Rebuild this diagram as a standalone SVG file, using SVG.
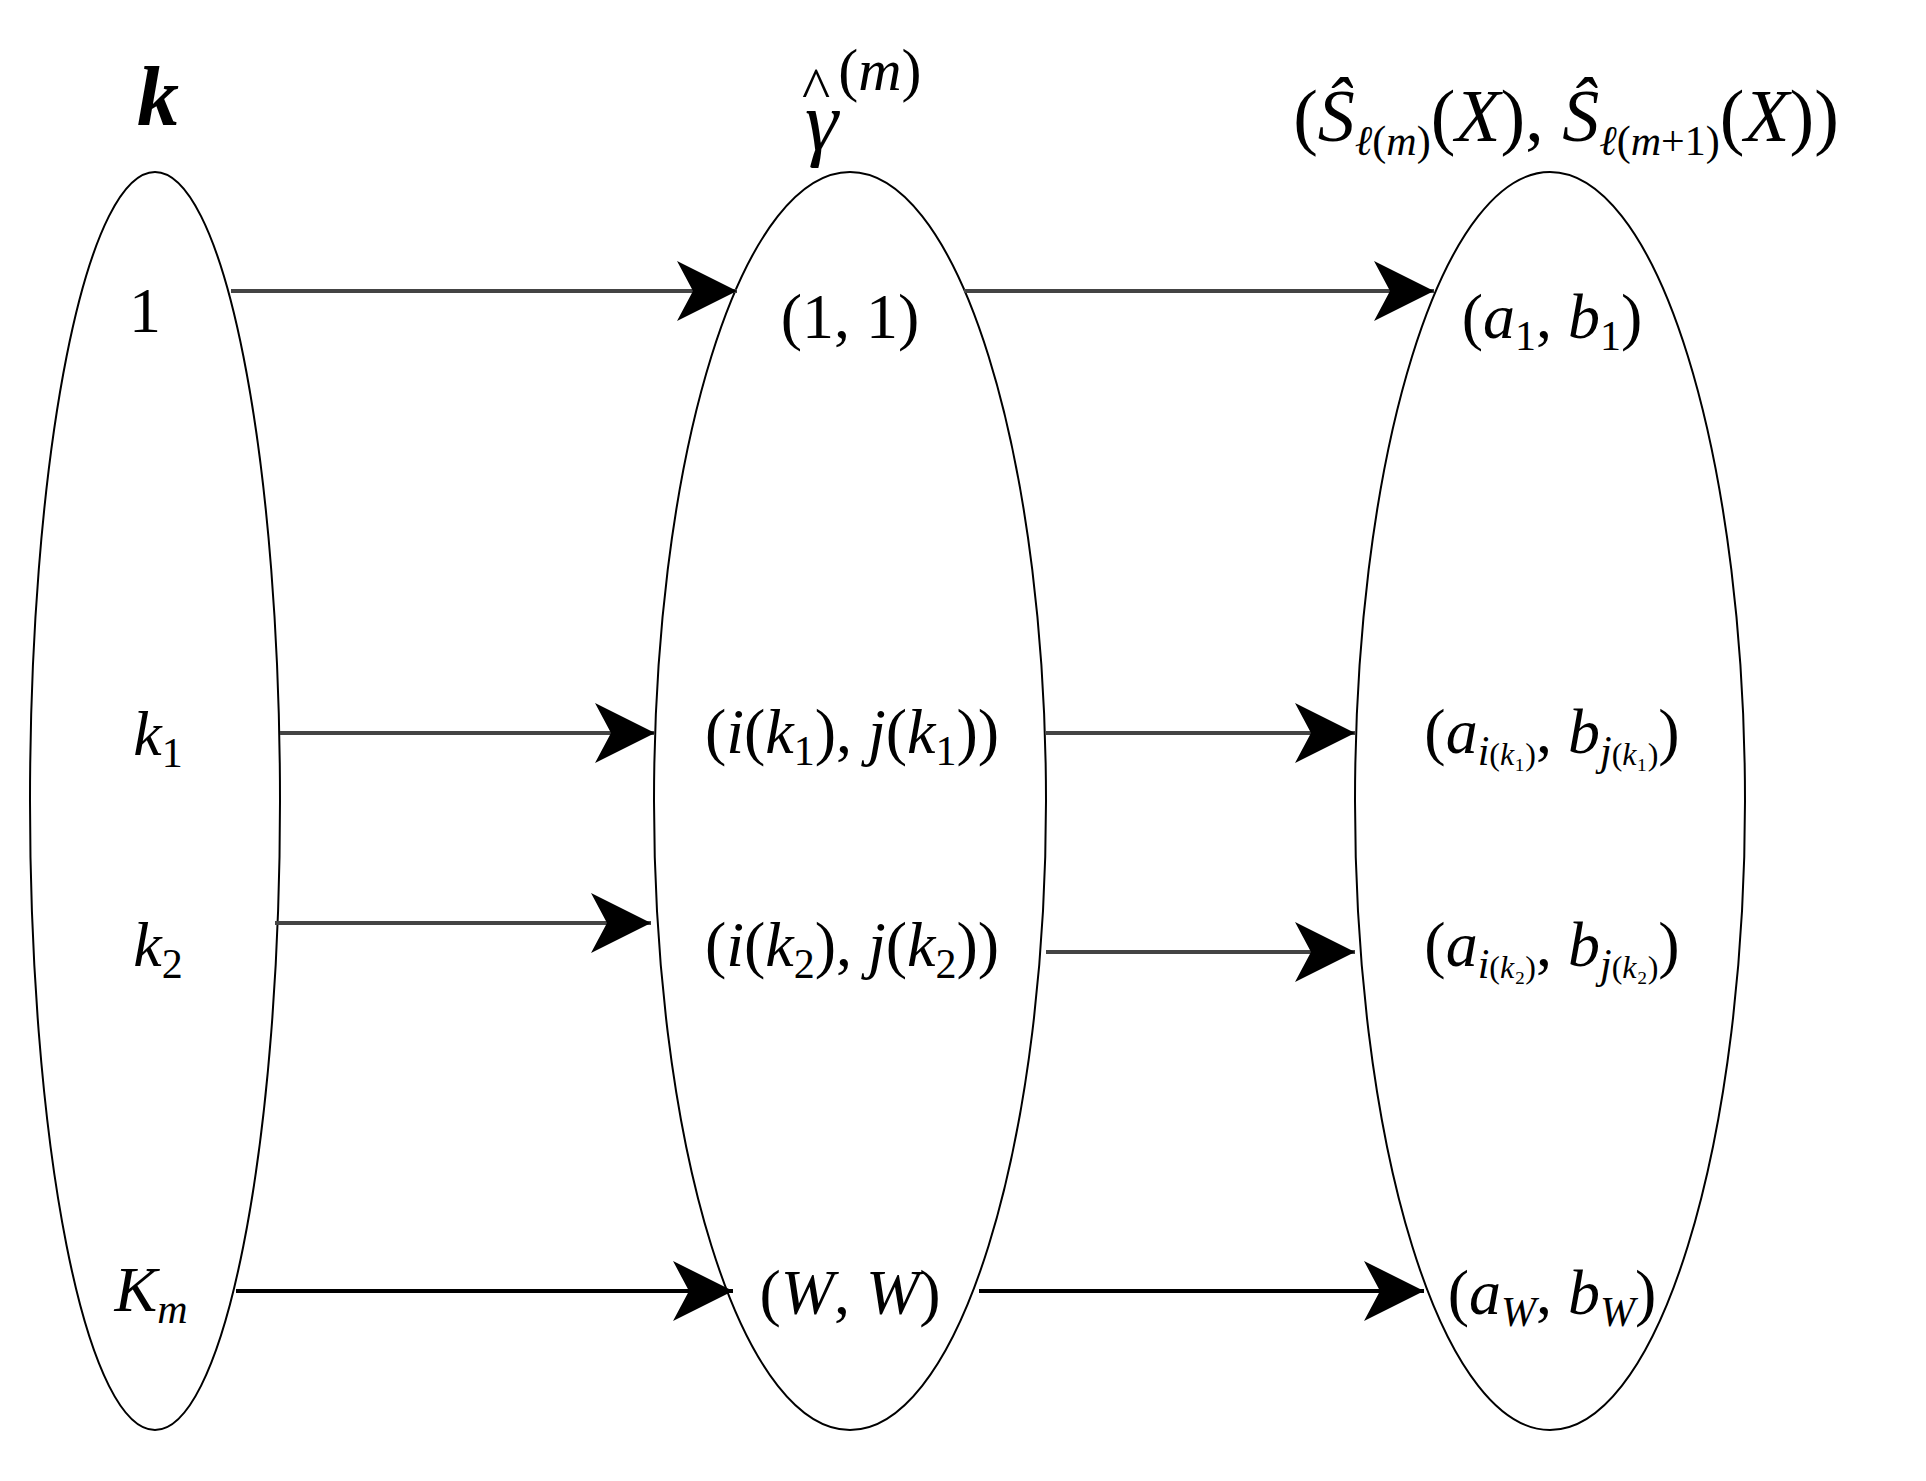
<svg xmlns="http://www.w3.org/2000/svg" width="1926" height="1481" viewBox="0 0 1926 1481">
<style>
.e{fill:none;stroke:#000;stroke-width:2}
.c line{stroke:#444;stroke-width:4}
text{font-family:"Liberation Serif",serif;font-size:64px;fill:#000;text-anchor:middle}
.i{font-style:italic}
.s{font-size:42px}
.t{font-size:32px}
</style>
<defs>
<marker id="a" markerUnits="userSpaceOnUse" markerWidth="70" markerHeight="70" refX="60" refY="30" orient="auto" viewBox="0 0 70 60">
<path d="M0,0 L60,30 L0,60 L16,30 Z" fill="#000"/>
</marker>
</defs>
<rect width="1926" height="1481" fill="#fff"/>
<g id="col-k"><ellipse class="e" cx="155" cy="801" rx="125" ry="629"/>
<text x="158" y="125" class="i" style="font-size:84px;font-weight:bold">k</text>
<text x="145" y="332">1</text>
<text x="158" y="755"><tspan class="i">k</tspan><tspan class="s" dy="12">1</tspan></text>
<text x="158" y="966"><tspan class="i">k</tspan><tspan class="s" dy="12">2</tspan></text>
<text x="151" y="1311"><tspan class="i">K</tspan><tspan class="s i" dy="12">m</tspan></text>
</g>
<g id="col-gamma"><ellipse class="e" cx="850" cy="801" rx="196" ry="629"/>
<text x="820" y="150" style="text-anchor:start;font-size:84px" dx="-18"><tspan class="i">γ</tspan><tspan dx="-36" dy="-42" style="font-size:60px">^</tspan><tspan dx="8" dy="-18" style="font-size:60px">(<tspan class="i">m</tspan>)</tspan></text>
<text x="850" y="338">(1, 1)</text>
<text x="852" y="753">(<tspan class="i">i</tspan>(<tspan class="i">k</tspan><tspan class="s" dy="12">1</tspan><tspan dy="-12">), </tspan><tspan class="i">j</tspan>(<tspan class="i">k</tspan><tspan class="s" dy="12">1</tspan><tspan dy="-12">))</tspan></text>
<text x="852" y="966">(<tspan class="i">i</tspan>(<tspan class="i">k</tspan><tspan class="s" dy="12">2</tspan><tspan dy="-12">), </tspan><tspan class="i">j</tspan>(<tspan class="i">k</tspan><tspan class="s" dy="12">2</tspan><tspan dy="-12">))</tspan></text>
<text x="850" y="1314">(<tspan class="i">W</tspan>, <tspan class="i">W</tspan>)</text>
</g>
<g id="col-S"><ellipse class="e" cx="1550" cy="801" rx="195" ry="629"/>
<text x="1566" y="141" style="font-size:74px">(<tspan class="i">Ŝ</tspan><tspan class="s" dy="14"><tspan class="i">ℓ</tspan>(<tspan class="i">m</tspan>)</tspan><tspan dy="-14">(</tspan><tspan class="i">X</tspan>), <tspan class="i">Ŝ</tspan><tspan class="s" dy="14"><tspan class="i">ℓ</tspan>(<tspan class="i">m</tspan>+1)</tspan><tspan dy="-14">(</tspan><tspan class="i">X</tspan>))</text>
<text x="1552" y="338">(<tspan class="i">a</tspan><tspan class="s" dy="12">1</tspan><tspan dy="-12">, </tspan><tspan class="i">b</tspan><tspan class="s" dy="12">1</tspan><tspan dy="-12">)</tspan></text>
<text x="1552" y="753">(<tspan class="i">a</tspan><tspan class="s i" dy="12">i</tspan><tspan class="t">(<tspan class="i">k</tspan>₁)</tspan><tspan dy="-12">, </tspan><tspan class="i">b</tspan><tspan class="s i" dy="12">j</tspan><tspan class="t">(<tspan class="i">k</tspan>₁)</tspan><tspan dy="-12">)</tspan></text>
<text x="1552" y="966">(<tspan class="i">a</tspan><tspan class="s i" dy="12">i</tspan><tspan class="t">(<tspan class="i">k</tspan>₂)</tspan><tspan dy="-12">, </tspan><tspan class="i">b</tspan><tspan class="s i" dy="12">j</tspan><tspan class="t">(<tspan class="i">k</tspan>₂)</tspan><tspan dy="-12">)</tspan></text>
<text x="1552" y="1314">(<tspan class="i">a</tspan><tspan class="s i" dy="12">W</tspan><tspan dy="-12">, </tspan><tspan class="i">b</tspan><tspan class="s i" dy="12">W</tspan><tspan dy="-12">)</tspan></text>
</g>
<g id="connectors" class="c">
<line x1="231" y1="291" x2="737" y2="291" marker-end="url(#a)"/>
<line x1="280" y1="733" x2="655" y2="733" marker-end="url(#a)"/>
<line x1="275" y1="923" x2="651" y2="923" marker-end="url(#a)"/>
<line x1="236" y1="1291" x2="733" y2="1291" marker-end="url(#a)" style="stroke:#000"/>
<line x1="964" y1="291" x2="1434" y2="291" marker-end="url(#a)"/>
<line x1="1046" y1="733" x2="1355" y2="733" marker-end="url(#a)"/>
<line x1="1046" y1="952" x2="1355" y2="952" marker-end="url(#a)"/>
<line x1="979" y1="1291" x2="1424" y2="1291" marker-end="url(#a)" style="stroke:#000"/>
</g>
</svg>
